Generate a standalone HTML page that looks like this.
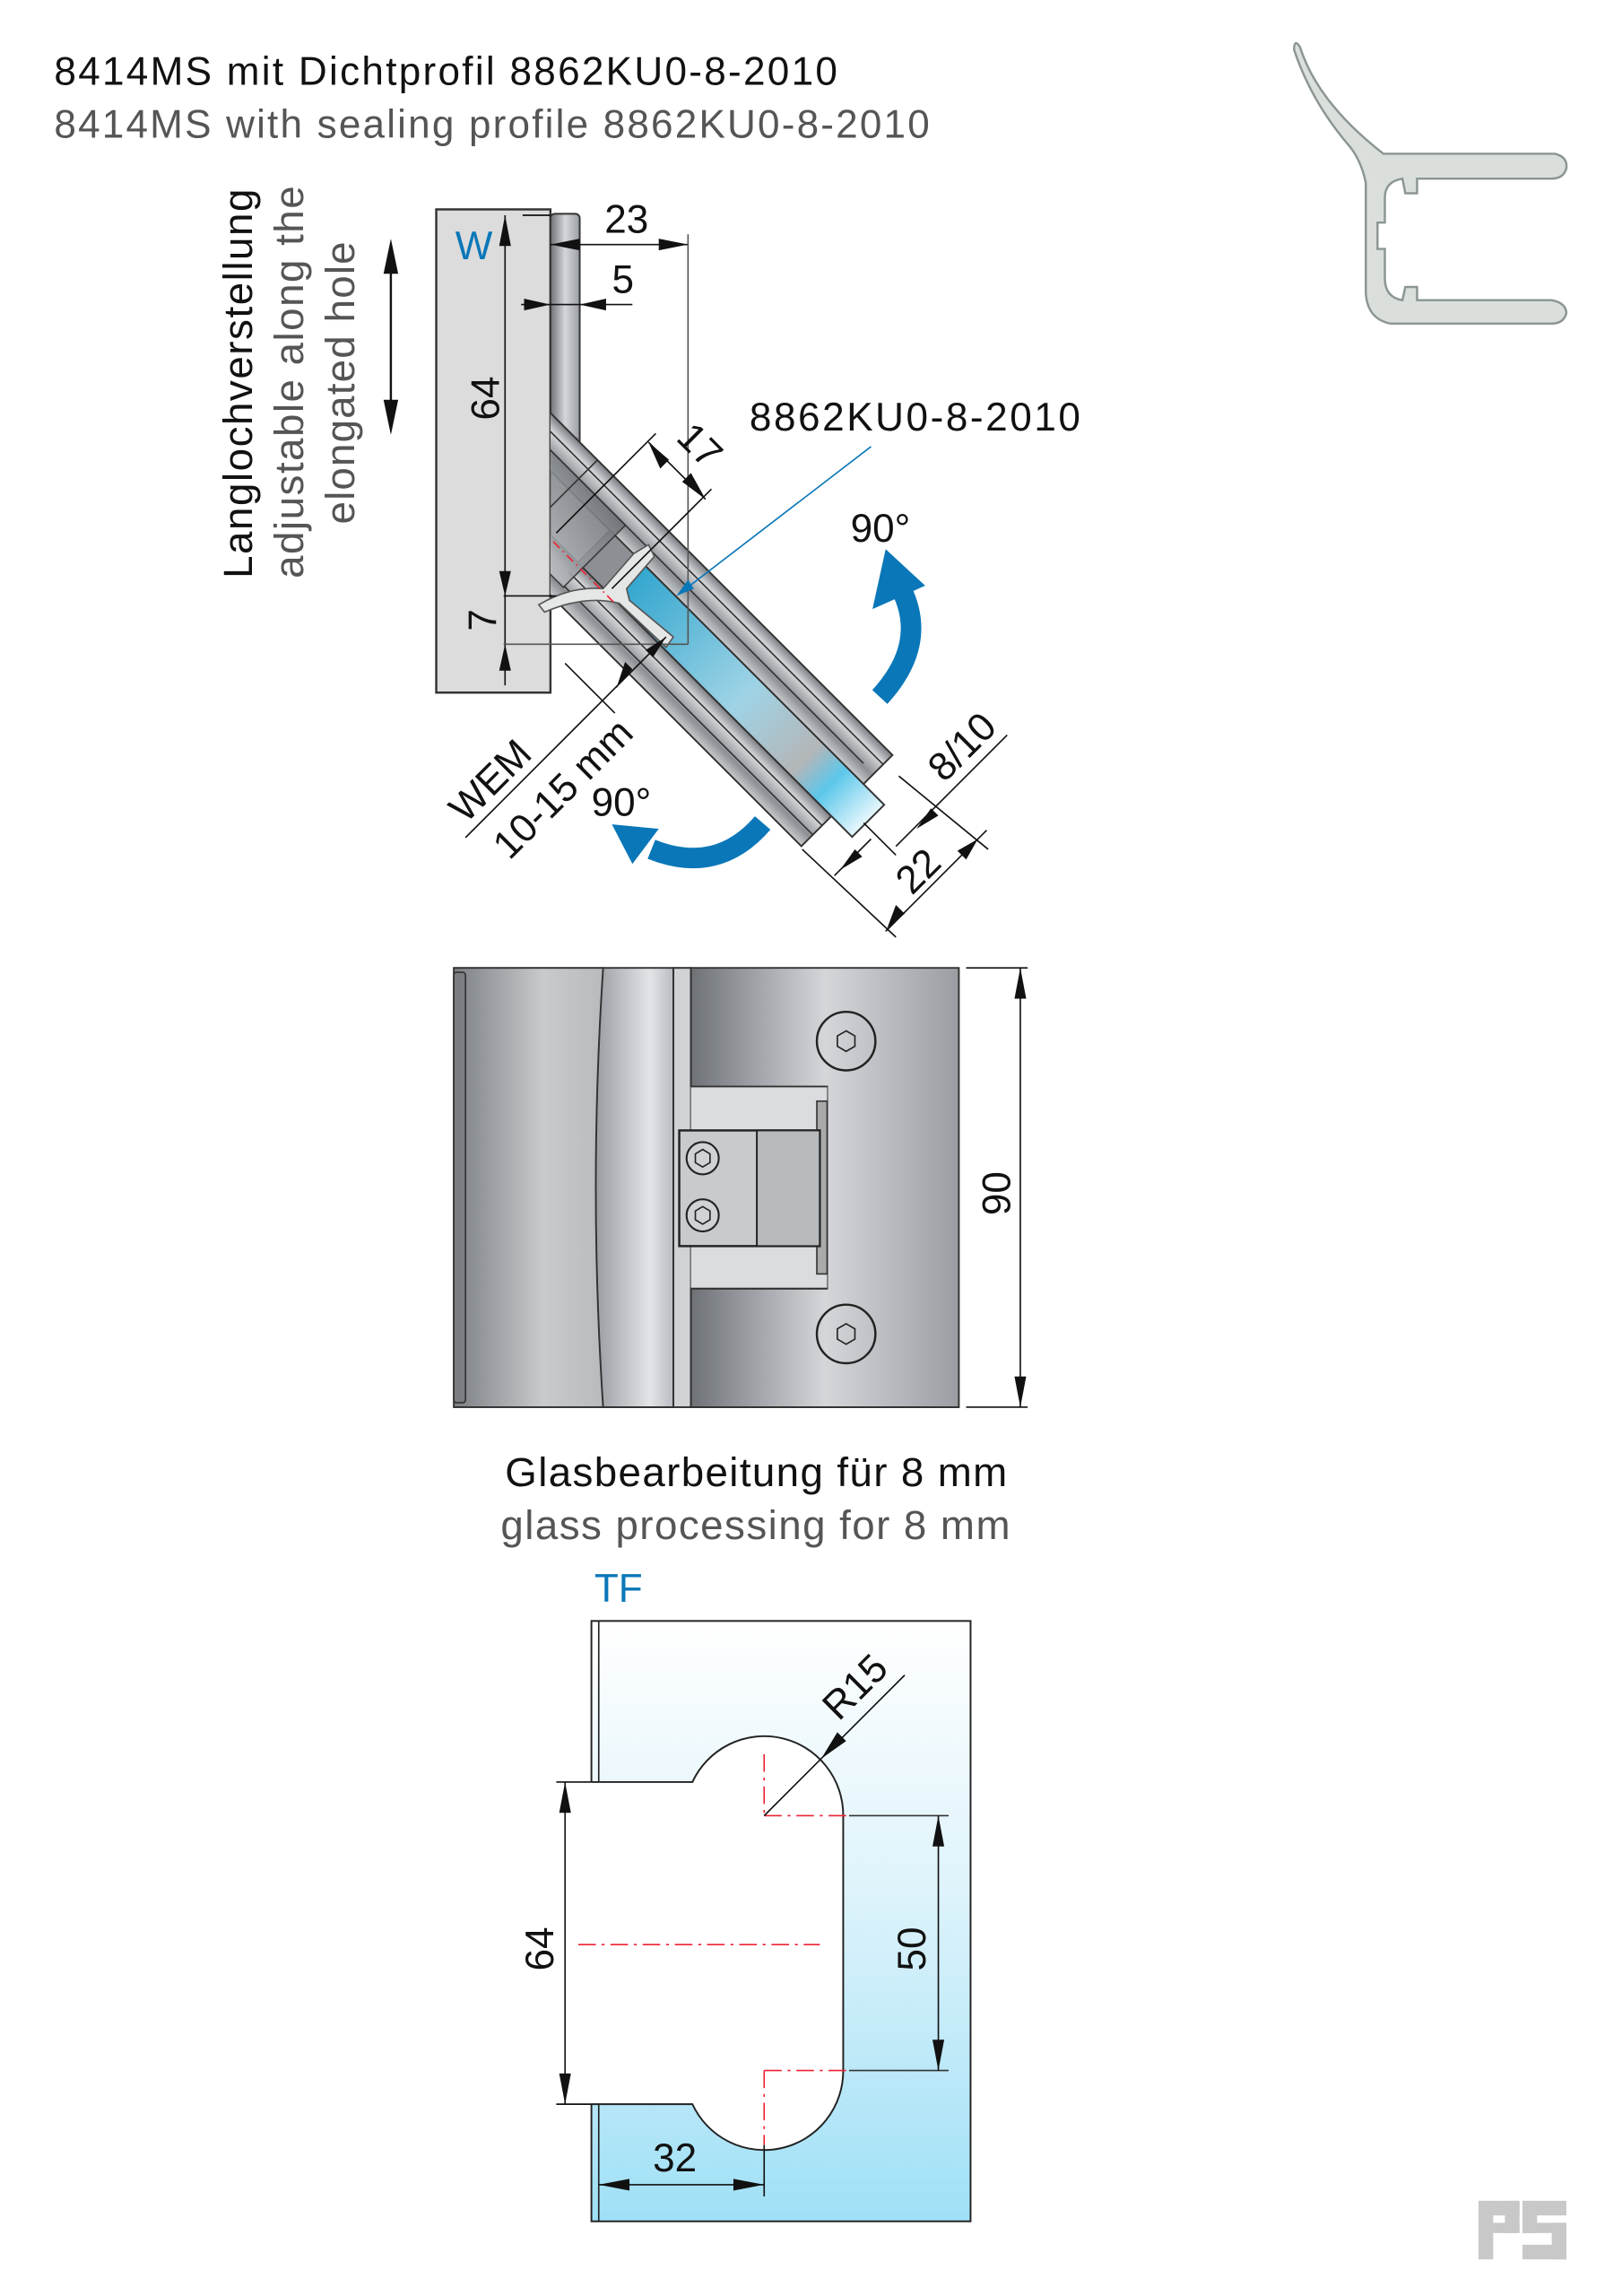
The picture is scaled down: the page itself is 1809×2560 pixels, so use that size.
<!DOCTYPE html>
<html><head><meta charset="utf-8"><style>html,body{margin:0;padding:0;background:#fff}svg{display:block}</style></head>
<body>
<svg width="1809" height="2560" viewBox="0 0 1108 1568" xmlns="http://www.w3.org/2000/svg" font-family="Liberation Sans, sans-serif">
<defs>
<linearGradient id="mh" x1="0" x2="1" y1="0" y2="0"><stop offset="0" stop-color="#6e7276"/><stop offset="0.5" stop-color="#d4d6da"/><stop offset="1" stop-color="#9a9ea2"/></linearGradient>
<linearGradient id="m1" x1="0" x2="1" y1="0" y2="0"><stop offset="0" stop-color="#7c8084"/><stop offset="0.6" stop-color="#c8cacd"/><stop offset="1" stop-color="#b8babe"/></linearGradient>
<linearGradient id="m2" x1="0" x2="1"><stop offset="0" stop-color="#9a9da1"/><stop offset="0.7" stop-color="#e2e4e8"/><stop offset="1" stop-color="#b8bbbf"/></linearGradient>
<linearGradient id="m3" x1="0" x2="1" y1="1" y2="0"><stop offset="0" stop-color="#b5b8bc"/><stop offset="0.3" stop-color="#e6e7ea"/><stop offset="0.6" stop-color="#9da1a5"/><stop offset="1" stop-color="#6f7377"/></linearGradient>
<linearGradient id="gl" x1="0" x2="0" y1="0" y2="1"><stop offset="0" stop-color="#ffffff"/><stop offset="0.45" stop-color="#def3fb"/><stop offset="1" stop-color="#9fe0f6"/></linearGradient>
<linearGradient id="gb" x1="0" x2="1"><stop offset="0" stop-color="#2aa3cc"/><stop offset="0.5" stop-color="#9fd3e6"/><stop offset="0.75" stop-color="#b4b6b8"/><stop offset="0.85" stop-color="#5cc7ea"/><stop offset="1" stop-color="#e8f7fd"/></linearGradient>
<linearGradient id="arm" x1="0" x2="0" y1="0" y2="1"><stop offset="0" stop-color="#7a7e82"/><stop offset="0.3" stop-color="#d7d9dc"/><stop offset="0.7" stop-color="#8c9094"/><stop offset="1" stop-color="#c9cbce"/></linearGradient>
<clipPath id="cl"><rect x="376" y="0" width="400" height="800"/></clipPath>
</defs>

<text x="37" y="58" font-size="27" fill="#111" textLength="535">8414MS mit Dichtprofil 8862KU0-8-2010</text>
<text x="37" y="94" font-size="27" fill="#555" textLength="598">8414MS with sealing profile 8862KU0-8-2010</text>

<path d="M888,32 Q900,70 945,105 L1062,105 Q1071,107 1070,115 Q1068,122 1060,122 L968,122 L968,132 L960,132 L958,122 Q946,124 946,135 L946,152 L941,152 L941,170 L946,170 L946,190 Q946,203 958,205 L960,196 L968,196 L968,205 L1060,205 Q1070,207 1070,214 Q1068,221 1060,221 L950,221 Q934,218 933,200 L933,125 Q930,110 922,100 Q896,70 884,34 Q884,26 888,32 Z" fill="#dadfdc" stroke="#8b9591" stroke-width="1.5"/>

<text transform="translate(172,395) rotate(-90)" font-size="28" fill="#111" textLength="266">Langlochverstellung</text>
<text transform="translate(207,395) rotate(-90)" font-size="28" fill="#555" textLength="268">adjustable along the</text>
<text transform="translate(242,358) rotate(-90)" font-size="28" fill="#555" textLength="193">elongated hole</text>
<line x1="267" y1="170" x2="267" y2="290" stroke="#111" stroke-width="1.5"/>
<polygon points="267,163 262,187 272,187" fill="#111"/>
<polygon points="267,297 262,273 272,273" fill="#111"/>

<rect x="298" y="143" width="78" height="330" fill="#dcdcdc" stroke="#333" stroke-width="1.5"/>
<rect x="376" y="146" width="20" height="168" rx="3" fill="url(#mh)" stroke="#333" stroke-width="1.2"/>

<g clip-path="url(#cl)">
<polygon points="376,314 396,314 394,300 300,394 376,470" fill="url(#m3)" stroke="#333" stroke-width="1.2"/>
<g transform="translate(394,300) rotate(45)">
<rect x="-150" y="0" width="455" height="28" fill="url(#arm)" stroke="#333" stroke-width="1.2"/>
<rect x="-150" y="59" width="455" height="29" fill="url(#arm)" stroke="#333" stroke-width="1.2"/>
<line x1="-150" y1="9" x2="305" y2="9" stroke="#333" stroke-width="1"/>
<line x1="-150" y1="18" x2="295" y2="18" stroke="#333" stroke-width="1"/>
<line x1="60" y1="68" x2="305" y2="68" stroke="#333" stroke-width="1"/>
<line x1="60" y1="77" x2="305" y2="77" stroke="#333" stroke-width="1"/>
<rect x="60" y="28" width="230" height="31" fill="#8c9094" stroke="#333" stroke-width="1"/>
<rect x="85" y="28" width="240" height="31" fill="url(#gb)" stroke="#333" stroke-width="1.2"/>
<rect x="-150" y="18" width="215" height="60" fill="url(#m3)" stroke="#333" stroke-width="1" opacity="0.9"/>
<line x1="20" y1="0" x2="20" y2="88" stroke="#333" stroke-width="1"/>
</g>
</g>
<path d="M368,413 Q390,400 412,402 L433,378 L443,372 L447,380 L428,402 L430,410 L460,435 L455,442 L423,412 Q400,406 372,418 Z" fill="#e4e7e5" stroke="#555" stroke-width="1"/>
<line x1="378" y1="370" x2="420" y2="412" stroke="#e23" stroke-width="1" stroke-dasharray="6,3,1,3"/>

<line x1="345" y1="147" x2="345" y2="468" stroke="#111" stroke-width="1"/>
<polygon points="345,147 341,168 349,168" fill="#111"/>
<line x1="344" y1="407" x2="380" y2="407" stroke="#111" stroke-width="1"/>
<line x1="344" y1="440" x2="470" y2="440" stroke="#555" stroke-width="1"/>
<polygon points="345,407 341,390 349,390" fill="#111"/>
<polygon points="345,440 341,458 349,458" fill="#111"/>
<line x1="357" y1="147" x2="376" y2="147" stroke="#111" stroke-width="1"/>
<text x="311" y="177" font-size="27" fill="#0a77b8">W</text>
<line x1="376" y1="167" x2="470" y2="167" stroke="#111" stroke-width="1"/>
<polygon points="376,167 396,163 396,171" fill="#111"/>
<polygon points="470,167 450,163 450,171" fill="#111"/>
<line x1="470" y1="160" x2="470" y2="440" stroke="#555" stroke-width="1"/>
<text x="413" y="159" font-size="27" fill="#111">23</text>
<line x1="356" y1="208" x2="432" y2="208" stroke="#111" stroke-width="1"/>
<polygon points="376,208 358,204 358,212" fill="#111"/>
<polygon points="396,208 414,204 414,212" fill="#111"/>
<text x="418" y="200" font-size="27" fill="#111">5</text>
<text transform="translate(341,287) rotate(-90)" font-size="27" fill="#111">64</text>
<text transform="translate(339,431) rotate(-90)" font-size="27" fill="#111">7</text>

<line x1="380" y1="364" x2="448" y2="296" stroke="#111" stroke-width="1"/>
<line x1="418" y1="402" x2="486" y2="334" stroke="#111" stroke-width="1"/>
<line x1="443" y1="302" x2="482" y2="341" stroke="#111" stroke-width="1"/>
<polygon points="443,302 451,320 457,314" fill="#111"/>
<polygon points="482,341 466,329 472,323" fill="#111"/>
<text transform="translate(461,300) rotate(45)" font-size="27" fill="#111">17</text>

<text x="512" y="294" font-size="27" fill="#111" textLength="226">8862KU0-8-2010</text>
<line x1="595" y1="305" x2="466" y2="404" stroke="#0a77b8" stroke-width="1"/>
<polygon points="462,407 470,396 474,402" fill="#0a77b8"/>

<path d="M601,476 Q634,440 616,403" fill="none" stroke="#0a77b8" stroke-width="14"/>
<polygon points="605,375 596,416 632,400" fill="#0a77b8"/>
<path d="M521,562 Q490,598 445,580" fill="none" stroke="#0a77b8" stroke-width="14"/>
<polygon points="418,563 432,590 450,566" fill="#0a77b8"/>
<text x="581" y="370" font-size="27" fill="#111">90°</text>
<text x="404" y="557" font-size="27" fill="#111">90°</text>

<line x1="386" y1="453" x2="420" y2="487" stroke="#111" stroke-width="1"/>
<line x1="318" y1="572" x2="455" y2="435" stroke="#111" stroke-width="1"/>
<polygon points="455,435 441,444 446,449" fill="#111"/>
<polygon points="421,470 432,457 427,452" fill="#111"/>
<text transform="translate(318,563) rotate(-45)" font-size="27" fill="#111">WEM</text>
<text transform="translate(348,588) rotate(-45)" font-size="27" fill="#111">10-15 mm</text>

<line x1="590" y1="562" x2="612" y2="584" stroke="#111" stroke-width="1"/>
<line x1="614" y1="530" x2="675" y2="580" stroke="#111" stroke-width="1"/>
<line x1="548" y1="580" x2="612" y2="640" stroke="#111" stroke-width="1"/>
<line x1="612" y1="578" x2="688" y2="502" stroke="#111" stroke-width="1"/>
<polygon points="626,566 636,552 641,557" fill="#111"/>
<text transform="translate(645,535) rotate(-45)" font-size="27" fill="#111">8/10</text>
<line x1="605" y1="636" x2="674" y2="567" stroke="#111" stroke-width="1"/>
<polygon points="574,594 584,580 589,585" fill="#111"/>
<polygon points="606,634 612,618 618,624" fill="#111"/>
<polygon points="668,573 654,581 660,587" fill="#111"/>
<line x1="570" y1="598" x2="595" y2="573" stroke="#111" stroke-width="1"/>
<text transform="translate(623,612) rotate(-45)" font-size="27" fill="#111">22</text>

<rect x="310" y="661" width="102" height="300" fill="url(#m1)" stroke="#333" stroke-width="1.2"/>
<rect x="310" y="664" width="8" height="294" rx="2" fill="#7a7e82" stroke="#333" stroke-width="1"/>
<path d="M412,661 L460,661 L460,961 L412,961 Q402,811 412,661 Z" fill="url(#m2)" stroke="#333" stroke-width="1.2"/>
<rect x="460" y="661" width="12" height="300" fill="#d0d2d5" stroke="#333" stroke-width="1.2"/>
<path d="M472,661 L655,661 L655,961 L472,961 L472,880 L565,880 L565,742 L472,742 Z" fill="url(#mh)" stroke="#333" stroke-width="1.2"/>
<rect x="472" y="742" width="93" height="138" fill="#dadcdf"/>
<line x1="472" y1="742" x2="565" y2="742" stroke="#333" stroke-width="1.2"/>
<line x1="472" y1="880" x2="565" y2="880" stroke="#333" stroke-width="1.2"/>
<rect x="558" y="752" width="7" height="118" fill="#aaa" stroke="#333" stroke-width="1"/>
<rect x="464" y="772" width="96" height="79" fill="#c8cacd" stroke="#222" stroke-width="1.5"/>
<rect x="517" y="772" width="43" height="79" fill="#b7babd" stroke="#222" stroke-width="1.2"/>
<circle cx="480" cy="791" r="11" fill="#d0d2d4" stroke="#222" stroke-width="1.3"/>
<polygon points="480,785 485,788 485,794 480,797 475,794 475,788" fill="none" stroke="#222"/>
<circle cx="480" cy="830" r="11" fill="#d0d2d4" stroke="#222" stroke-width="1.3"/>
<polygon points="480,824 485,827 485,833 480,836 475,833 475,827" fill="none" stroke="#222"/>
<circle cx="578" cy="711" r="20" fill="none" stroke="#222" stroke-width="1.5"/>
<polygon points="578,704 584,707.5 584,714.5 578,718 572,714.5 572,707.5" fill="none" stroke="#222"/>
<circle cx="578" cy="911" r="20" fill="none" stroke="#222" stroke-width="1.5"/>
<polygon points="578,904 584,907.5 584,914.5 578,918 572,914.5 572,907.5" fill="none" stroke="#222"/>
<line x1="660" y1="661" x2="702" y2="661" stroke="#111" stroke-width="1"/>
<line x1="660" y1="961" x2="702" y2="961" stroke="#111" stroke-width="1"/>
<line x1="697" y1="661" x2="697" y2="961" stroke="#111" stroke-width="1"/>
<polygon points="697,661 693,682 701,682" fill="#111"/>
<polygon points="697,961 693,940 701,940" fill="#111"/>
<text transform="translate(690,830) rotate(-90)" font-size="27" fill="#111">90</text>

<text x="345" y="1015" font-size="28" fill="#111" textLength="343">Glasbearbeitung für 8 mm</text>
<text x="342" y="1051" font-size="28" fill="#555" textLength="348">glass processing for 8 mm</text>
<text x="406" y="1094" font-size="27" fill="#0a77b8">TF</text>
<rect x="404" y="1107" width="259" height="410" fill="url(#gl)" stroke="#222" stroke-width="1.2"/>
<line x1="409" y1="1107" x2="409" y2="1517" stroke="#222" stroke-width="1"/>
<path d="M380,1217 L473,1217 A54,54 0 0 1 576,1240 L576,1414 A54,54 0 0 1 473,1437 L380,1437 Z" fill="#fff" stroke="none"/>
<path d="M404,1217 L473,1217 A54,54 0 0 1 576,1240 L576,1414 A54,54 0 0 1 473,1437 L404,1437" fill="none" stroke="#222" stroke-width="1.2"/>
<line x1="395" y1="1328" x2="560" y2="1328" stroke="#e23" stroke-width="1" stroke-dasharray="12,4,2,4"/>
<line x1="522" y1="1198" x2="522" y2="1240" stroke="#e23" stroke-width="1" stroke-dasharray="12,4,2,4"/>
<line x1="522" y1="1414" x2="522" y2="1465" stroke="#e23" stroke-width="1" stroke-dasharray="12,4,2,4"/>
<line x1="522" y1="1240" x2="580" y2="1240" stroke="#e23" stroke-width="1" stroke-dasharray="12,4,2,4"/>
<line x1="522" y1="1414" x2="580" y2="1414" stroke="#e23" stroke-width="1" stroke-dasharray="12,4,2,4"/>
<line x1="580" y1="1240" x2="648" y2="1240" stroke="#333" stroke-width="1"/>
<line x1="580" y1="1414" x2="648" y2="1414" stroke="#333" stroke-width="1"/>
<line x1="641" y1="1240" x2="641" y2="1414" stroke="#111" stroke-width="1"/>
<polygon points="641,1240 637,1261 645,1261" fill="#111"/>
<polygon points="641,1414 637,1393 645,1393" fill="#111"/>
<text transform="translate(632,1346) rotate(-90)" font-size="27" fill="#111">50</text>
<line x1="380" y1="1217" x2="404" y2="1217" stroke="#111" stroke-width="1"/>
<line x1="380" y1="1437" x2="404" y2="1437" stroke="#111" stroke-width="1"/>
<line x1="386" y1="1217" x2="386" y2="1437" stroke="#111" stroke-width="1"/>
<polygon points="386,1217 382,1238 390,1238" fill="#111"/>
<polygon points="386,1437 382,1416 390,1416" fill="#111"/>
<text transform="translate(378,1346) rotate(-90)" font-size="27" fill="#111">64</text>
<line x1="522" y1="1465" x2="522" y2="1500" stroke="#111" stroke-width="1"/>
<line x1="409" y1="1492" x2="522" y2="1492" stroke="#111" stroke-width="1"/>
<polygon points="409,1492 430,1488 430,1496" fill="#111"/>
<polygon points="522,1492 501,1488 501,1496" fill="#111"/>
<text x="446" y="1483" font-size="27" fill="#111">32</text>
<line x1="522" y1="1240" x2="618" y2="1144" stroke="#111" stroke-width="1"/>
<polygon points="561,1201 572,1183 578,1189" fill="#111"/>
<text transform="translate(573,1176) rotate(-45)" font-size="27" fill="#111">R15</text>

<g fill="#c8c8c8">
<rect x="1010" y="1503" width="28" height="10"/>
<rect x="1010" y="1503" width="10" height="40"/>
<rect x="1028" y="1503" width="10" height="22"/>
<rect x="1010" y="1518" width="28" height="7"/>
<rect x="1040" y="1503" width="30" height="10"/>
<rect x="1040" y="1503" width="10" height="22"/>
<rect x="1040" y="1518" width="30" height="7"/>
<rect x="1060" y="1518" width="10" height="25"/>
<rect x="1040" y="1533" width="30" height="10"/>
</g>
</svg>
</body></html>
